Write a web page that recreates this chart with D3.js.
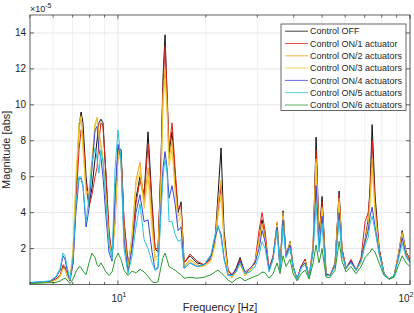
<!DOCTYPE html>
<html>
<head>
<meta charset="utf-8">
<script src="https://cdn.jsdelivr.net/npm/d3@7"></script>
<style>
  body { margin: 0; background: #fff; }
  svg { display: block; font-family: "Liberation Sans", Arial, Helvetica, sans-serif; }
</style>
</head>
<body>
<script>
const width = 414;
const height = 313;

// frequency points [Hz]
const freq = [5.00, 5.41, 5.85, 6.14, 6.34, 6.49, 6.59, 6.70, 6.85, 7.02, 7.18, 7.36, 7.48, 7.59, 7.78, 7.96,
  8.15, 8.35, 8.48, 8.61, 8.75, 8.89, 9.10, 9.32, 9.55, 9.78, 10.01, 10.25, 10.49, 10.83, 11.18, 11.53,
  11.90, 12.29, 12.68, 13.09, 13.40, 13.72, 14.05, 14.27, 14.50, 14.73, 14.96, 15.32, 15.69, 16.07, 16.45,
  16.85, 17.66, 18.66, 19.72, 20.84, 21.51, 22.02, 22.55, 23.08, 23.82, 24.59, 25.38, 26.19, 27.25, 28.34,
  29.48, 30.42, 31.15, 31.90, 32.92, 33.98, 35.07, 35.91, 36.76, 37.64, 38.85, 39.78, 41.06, 42.38, 43.74,
  45.14, 46.59, 47.70, 48.83, 50.0, 51.6, 53.3, 55.4, 57.2, 58.5, 60.4, 62.8, 65.4, 68.0, 70.2, 71.9, 73.0,
  74.2, 75.9, 78.4, 81.5, 84.8, 88.2, 91.0, 94.0, 97.0, 100];

// magnitudes, in units of 1e-5
const magOff = [0.10, 0.12, 0.15, 0.30, 0.50, 1.0, 0.90, 0.50, 0.25, 1.5, 5.0, 8.8, 9.6, 9.0, 6.0, 4.4,
  5.4, 7.0, 8.0, 9.0, 9.2, 9.0, 6.0, 2.8, 1.6, 4.0, 7.6, 7.5, 3.5, 1.1, 2.5, 4.8,
  6.0, 5.0, 8.5, 4.5, 2.0, 1.8, 7.0, 11.5, 13.9, 10.5, 7.3, 8.5, 6.0, 4.0, 4.6,
  1.2, 1.6, 1.2, 1.1, 1.5, 2.5, 5.0, 7.6, 3.0, 0.8, 0.5, 0.9, 1.5, 0.6, 0.8,
  1.2, 2.5, 3.6, 2.6, 0.8, 1.5, 3.4, 0.9, 4.1, 1.6, 2.4, 1.0, 0.3, 1.0, 1.4,
  0.4, 2.0, 8.2, 2.5, 4.9, 0.6, 0.5, 1.2, 5.2, 2.0, 0.9, 1.3, 0.8, 1.3, 2.5, 3.6, 5.5,
  8.9, 5.0, 2.0, 0.6, 0.3, 0.5, 1.5, 3.0, 1.8, 1.4];
const magOn1 = [0.10, 0.12, 0.15, 0.30, 0.50, 1.1, 1.0, 0.60, 0.25, 1.2, 4.5, 7.5, 8.6, 8.4, 5.5, 4.3,
  5.0, 6.0, 6.5, 8.0, 9.0, 8.8, 6.2, 3.0, 1.6, 3.5, 7.2, 7.3, 3.6, 1.2, 2.2, 4.5,
  5.8, 4.8, 7.8, 4.2, 2.0, 2.0, 6.8, 11.0, 13.3, 10.8, 7.5, 9.0, 6.5, 4.2, 4.4,
  1.2, 1.7, 1.3, 1.1, 1.4, 2.3, 4.0, 5.5, 2.5, 0.8, 0.5, 0.8, 1.4, 0.6, 0.8,
  1.3, 3.0, 4.0, 3.0, 0.9, 1.6, 3.3, 0.9, 3.8, 1.6, 2.3, 1.0, 0.3, 1.0, 1.4,
  0.4, 2.2, 7.5, 2.6, 4.6, 0.6, 0.5, 1.2, 5.0, 2.0, 0.9, 1.4, 0.8, 1.5, 3.5, 4.0, 5.0,
  8.0, 4.6, 2.0, 0.6, 0.3, 0.5, 1.6, 2.8, 1.8, 1.4];
const magOn2 = [0.08, 0.10, 0.12, 0.25, 0.45, 0.90, 0.80, 0.50, 0.20, 1.8, 5.5, 8.5, 9.4, 8.0, 5.2, 5.0,
  6.5, 8.8, 9.3, 8.5, 7.8, 7.0, 5.0, 2.5, 1.5, 3.8, 7.5, 7.0, 3.0, 0.8, 2.8, 5.8,
  6.8, 4.5, 6.5, 3.5, 1.5, 1.6, 6.0, 10.5, 12.0, 10.0, 7.0, 8.0, 5.5, 3.8, 4.0,
  1.0, 1.4, 1.1, 1.0, 1.4, 2.4, 4.5, 5.8, 2.6, 0.6, 0.4, 0.7, 1.2, 0.5, 0.8,
  1.2, 2.5, 3.4, 2.6, 0.8, 1.4, 3.5, 0.8, 4.0, 1.5, 2.4, 0.9, 0.3, 0.9, 1.3,
  0.4, 2.1, 7.0, 2.3, 4.3, 0.5, 0.5, 1.2, 4.8, 1.9, 0.9, 1.2, 0.8, 1.3, 2.5, 3.4, 4.8,
  7.0, 4.2, 1.8, 0.6, 0.3, 0.5, 1.5, 2.9, 1.7, 1.3];
const magOn3 = [0.08, 0.10, 0.12, 0.25, 0.45, 0.90, 0.85, 0.50, 0.20, 2.0, 6.0, 9.0, 9.3, 7.5, 5.0, 5.3,
  7.0, 9.0, 9.2, 8.0, 7.6, 6.8, 4.8, 2.4, 1.5, 3.5, 7.3, 6.8, 2.8, 0.8, 2.7, 5.5,
  6.3, 4.2, 6.0, 3.0, 1.3, 1.5, 5.5, 10.0, 11.5, 9.5, 6.6, 7.5, 5.2, 3.5, 3.8,
  1.0, 1.3, 1.0, 1.0, 1.3, 2.2, 3.8, 5.0, 2.3, 0.6, 0.4, 0.7, 1.1, 0.5, 0.8,
  1.2, 2.4, 3.2, 2.5, 0.8, 1.4, 3.3, 0.8, 3.8, 1.5, 2.3, 0.9, 0.3, 0.9, 1.3,
  0.4, 2.0, 6.8, 2.2, 4.2, 0.5, 0.5, 1.1, 4.6, 1.8, 0.9, 1.2, 0.8, 1.2, 2.3, 3.2, 4.5,
  6.5, 4.0, 1.8, 0.6, 0.3, 0.5, 1.5, 2.8, 1.7, 1.3];
const magOn4 = [0.10, 0.14, 0.18, 0.40, 0.80, 1.6, 1.4, 0.80, 0.20, 1.2, 4.0, 5.9, 5.9, 5.5, 3.2, 4.2,
  6.5, 8.6, 8.8, 7.5, 7.0, 6.0, 3.8, 1.8, 1.3, 5.0, 7.8, 7.0, 2.5, 0.7, 2.0, 4.0,
  5.0, 3.5, 3.6, 1.8, 0.8, 1.0, 4.5, 6.5, 7.4, 6.5, 4.8, 5.5, 4.5, 3.0, 3.2,
  0.9, 1.2, 1.0, 1.1, 1.6, 2.6, 3.2, 2.8, 1.5, 0.5, 0.6, 0.8, 1.3, 0.7, 0.9,
  1.2, 2.0, 3.0, 2.4, 0.8, 1.5, 3.2, 0.8, 3.6, 1.6, 2.2, 1.0, 0.3, 1.0, 1.2,
  0.4, 1.9, 5.5, 2.0, 3.8, 0.5, 0.5, 1.1, 4.0, 1.8, 0.9, 1.3, 0.8, 1.4, 2.4, 3.0, 3.8,
  4.3, 3.2, 1.8, 0.6, 0.3, 0.5, 1.4, 2.6, 1.6, 1.3];
const magOn5 = [0.12, 0.15, 0.20, 0.45, 0.90, 1.75, 1.6, 1.0, 0.25, 1.5, 4.5, 6.0, 6.0, 5.5, 3.5, 4.8,
  6.8, 7.6, 7.0, 6.2, 7.5, 6.8, 4.5, 2.2, 1.4, 6.5, 8.6, 6.8, 2.0, 0.6, 1.6, 3.2,
  4.5, 2.5, 2.0, 1.2, 0.8, 0.9, 4.0, 6.0, 7.0, 6.2, 3.5, 3.5, 2.8, 2.4, 2.5,
  0.9, 1.2, 1.0, 1.1, 1.7, 2.8, 3.3, 2.6, 1.4, 0.5, 0.5, 0.7, 1.2, 0.6, 0.7,
  1.0, 1.6, 2.4, 2.0, 0.7, 1.4, 3.0, 0.8, 3.3, 1.5, 2.0, 1.0, 0.3, 0.9, 1.1,
  0.4, 1.8, 4.5, 1.8, 3.4, 0.5, 0.5, 1.0, 3.6, 1.7, 0.9, 1.2, 0.8, 1.3, 2.2, 2.6, 3.4,
  3.8, 3.0, 1.7, 0.6, 0.3, 0.5, 1.3, 2.3, 1.5, 1.2];
const magOn6 = [0.05, 0.08, 0.10, 0.12, 0.20, 0.30, 0.35, 0.25, 0.05, 0.30, 0.70, 1.0, 0.95, 0.75, 0.55, 1.2,
  1.75, 1.5, 1.1, 1.0, 1.2, 1.0, 0.70, 0.50, 0.70, 1.4, 1.75, 1.4, 0.80, 0.50, 0.75, 0.65,
  0.85, 0.70, 0.45, 0.15, 0.10, 0.15, 1.0, 1.5, 1.75, 1.4, 1.0, 0.90, 0.80, 0.65, 0.55,
  0.35, 0.40, 0.35, 0.40, 0.55, 0.70, 0.80, 0.65, 0.50, 0.25, 0.10, 0.30, 0.40, 0.20, 0.35,
  0.45, 0.55, 0.70, 0.65, 0.35, 0.60, 1.2, 0.60, 1.6, 1.0, 1.4, 0.6, 0.2, 0.6, 0.8,
  0.3, 1.2, 2.2, 1.2, 2.0, 0.4, 0.4, 0.8, 2.4, 1.3, 0.7, 1.0, 0.6, 1.0, 1.5, 1.7, 1.8,
  2.0, 1.8, 1.2, 0.5, 0.3, 0.4, 1.0, 1.6, 1.2, 1.0];

const seriesNames = ["Control OFF", "Control ON/1 actuator", "Control ON/2 actuators", "Control ON/3 actuators",
  "Control ON/4 actuators", "Control ON/5 actuators", "Control ON/6 actuators"];
const seriesValues = [magOff, magOn1, magOn2, magOn3, magOn4, magOn5, magOn6];
const seriesColors = ["#111111", "#d9261f", "#f2a01e", "#f0cf33", "#3a46d6", "#2cc3de", "#2a9a30"];

const yTicks = [2, 4, 6, 8, 10, 12, 14];
const xMajor = [10, 100];

// plot box
const plotLeft = 30, plotRight = 410, plotTop = 15, plotBottom = 284.5;

let svg = d3.select("body")
    .append("svg")
    .attr("width", width)
    .attr("height", height);

const x = d3.scaleLog().domain([5, 100]).range([plotLeft, plotRight]);
const y = d3.scaleLinear().domain([0, 15]).range([plotBottom, plotTop]);

const main = () => {
    // grid, minor first
    let xTicks = x.ticks();
    let minor = xTicks.filter(t => !xMajor.includes(t));
    svg.append("g").selectAll("line").data(minor).join("line")
        .attr("x1", d => x(d)).attr("x2", d => x(d))
        .attr("y1", plotTop).attr("y2", plotBottom)
        .attr("stroke", "#ececec").attr("stroke-width", 0.8);
    svg.append("g").selectAll("line").data(xMajor).join("line")
        .attr("x1", d => x(d)).attr("x2", d => x(d))
        .attr("y1", plotTop).attr("y2", plotBottom)
        .attr("stroke", "#dedede").attr("stroke-width", 0.8);
    svg.append("g").selectAll("line").data(yTicks).join("line")
        .attr("x1", plotLeft).attr("x2", plotRight)
        .attr("y1", d => y(d)).attr("y2", d => y(d))
        .attr("stroke", "#e2e2e2").attr("stroke-width", 0.8);

    // curves
    let line = d3.line()
        .x((d, i) => x(freq[i]))
        .y(d => y(d));

    svg.append("clipPath").attr("id", "plotclip")
        .append("rect")
        .attr("x", plotLeft).attr("y", plotTop)
        .attr("width", plotRight - plotLeft).attr("height", plotBottom - plotTop);

    let curves = svg.append("g").attr("clip-path", "url(#plotclip)");
    seriesValues.forEach((vals, k) => {
        curves.append("path")
            .datum(vals)
            .attr("d", line)
            .attr("fill", "none")
            .attr("stroke", seriesColors[k])
            .attr("stroke-width", 1)
            .attr("stroke-linejoin", "round");
    });

    drawAxes();
    drawLegend();
}

const drawAxes = () => {
    const axisColor = "#262626";
    let g = svg.append("g");

    // inward ticks, bottom and top
    x.ticks().forEach(t => {
        let len = xMajor.includes(t) ? 4 : 2.5;
        g.append("line").attr("x1", x(t)).attr("x2", x(t))
            .attr("y1", plotBottom).attr("y2", plotBottom - len)
            .attr("stroke", axisColor).attr("stroke-width", 0.7);
        g.append("line").attr("x1", x(t)).attr("x2", x(t))
            .attr("y1", plotTop).attr("y2", plotTop + len)
            .attr("stroke", axisColor).attr("stroke-width", 0.7);
    });
    // inward ticks, left and right
    yTicks.forEach(t => {
        g.append("line").attr("x1", plotLeft).attr("x2", plotLeft + 4)
            .attr("y1", y(t)).attr("y2", y(t))
            .attr("stroke", axisColor).attr("stroke-width", 0.7);
        g.append("line").attr("x1", plotRight).attr("x2", plotRight - 4)
            .attr("y1", y(t)).attr("y2", y(t))
            .attr("stroke", axisColor).attr("stroke-width", 0.7);
    });

    // box
    g.append("rect")
        .attr("x", plotLeft).attr("y", plotTop)
        .attr("width", plotRight - plotLeft).attr("height", plotBottom - plotTop)
        .attr("fill", "none")
        .attr("stroke", axisColor).attr("stroke-width", 0.7);

    // y tick labels
    g.selectAll("text.ylab").data(yTicks).join("text")
        .attr("class", "ylab")
        .attr("x", plotLeft - 4)
        .attr("y", d => y(d) + 3.5)
        .attr("text-anchor", "end")
        .attr("font-size", 10)
        .attr("fill", axisColor)
        .text(d => d);

    // x tick labels 10^1, 10^2 (the last one kept inside the page edge)
    xMajor.forEach(t => {
        let px = Math.min(x(t) + 1, width - 8);
        let txt = g.append("text")
            .attr("x", px)
            .attr("y", 302)
            .attr("text-anchor", "middle")
            .attr("font-size", 10)
            .attr("fill", axisColor);
        txt.append("tspan").text("10");
        txt.append("tspan").attr("dy", -5).attr("font-size", 7).text(Math.log10(t));
    });

    // exponent
    let ex = g.append("text")
        .attr("x", plotLeft)
        .attr("y", 12)
        .attr("font-size", 9)
        .attr("fill", axisColor);
    ex.append("tspan").text("\u00d710");
    ex.append("tspan").attr("dy", -4).attr("font-size", 7).text("-5");

    // axis labels
    g.append("text")
        .attr("x", (plotLeft + plotRight) / 2)
        .attr("y", 311)
        .attr("text-anchor", "middle")
        .attr("font-size", 11)
        .attr("fill", axisColor)
        .text("Frequency [Hz]");
    g.append("text")
        .attr("transform", "translate(10," + ((plotTop + plotBottom) / 2) + ") rotate(-90)")
        .attr("text-anchor", "middle")
        .attr("font-size", 11)
        .attr("fill", axisColor)
        .text("Magnitude [abs]");
}

const drawLegend = () => {
    let lx = 281, ly = 24, lw = 125, rowH = 12.3;
    let g = svg.append("g");
    g.append("rect")
        .attr("x", lx).attr("y", ly)
        .attr("width", lw).attr("height", rowH * seriesNames.length + 0.5)
        .attr("fill", "#fff")
        .attr("stroke", "#262626").attr("stroke-width", 0.7);

    seriesNames.forEach((name, k) => {
        let cy = ly + 7.2 + k * rowH;
        g.append("line")
            .attr("x1", lx + 4).attr("x2", lx + 27)
            .attr("y1", cy).attr("y2", cy)
            .attr("stroke", seriesColors[k]).attr("stroke-width", 0.8);
        g.append("text")
            .attr("x", lx + 29)
            .attr("y", cy + 3.2)
            .attr("font-size", 9)
            .attr("fill", "#262626")
            .text(name);
    });
}

window.addEventListener("load", main);
</script>
</body>
</html>
